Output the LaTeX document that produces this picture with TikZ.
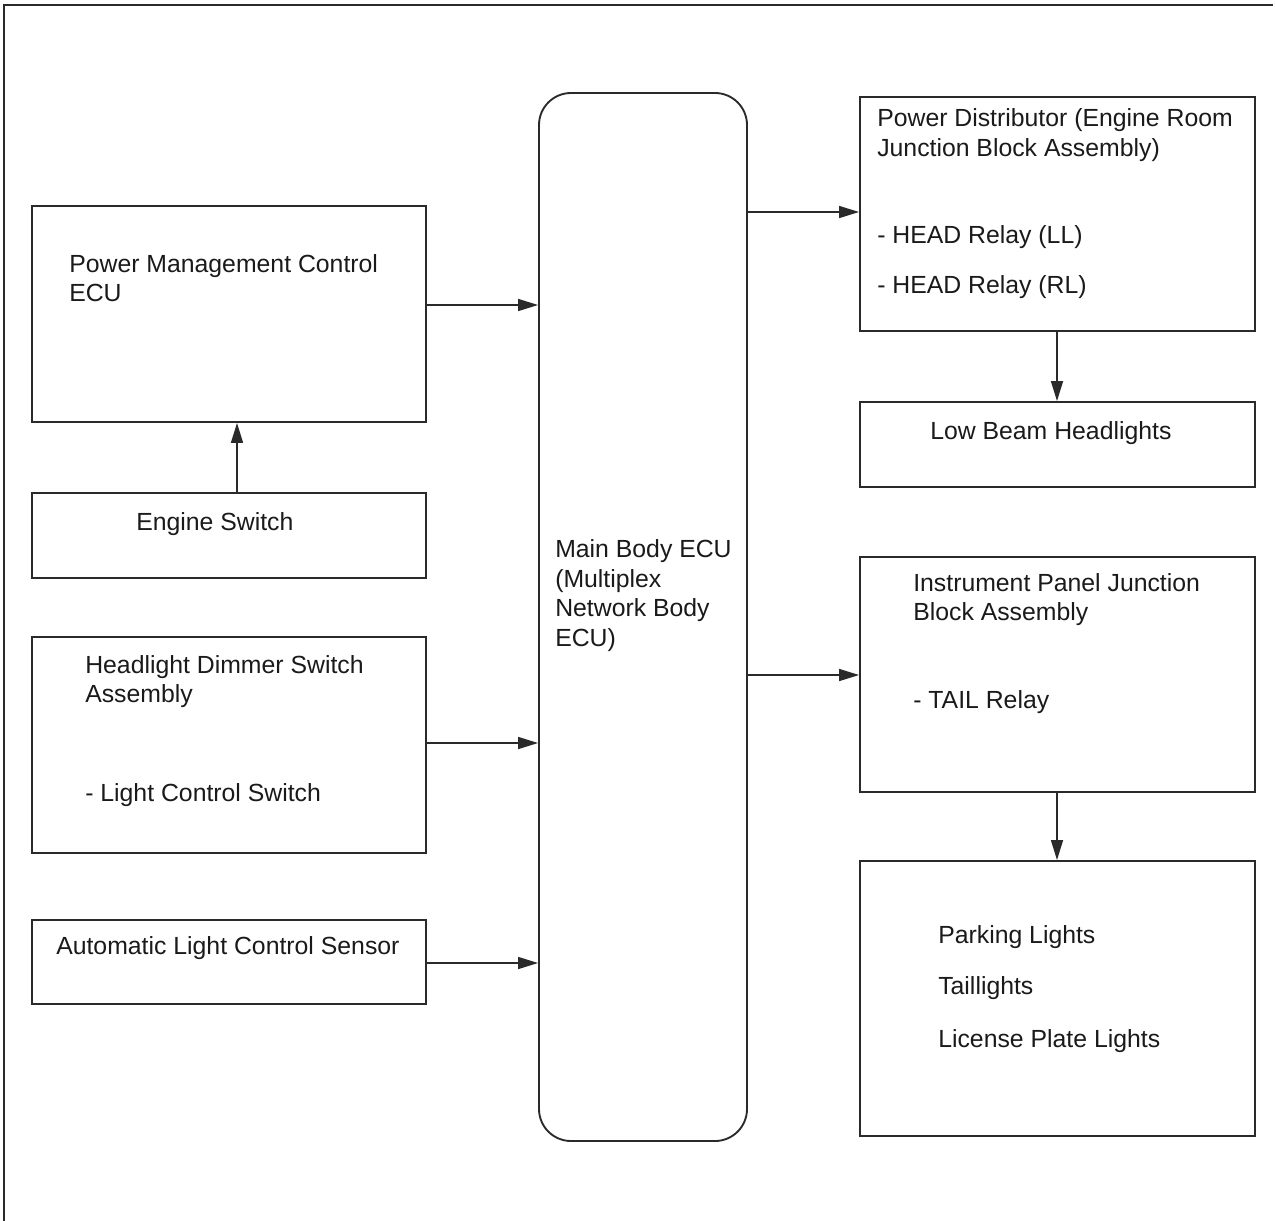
\documentclass[tikz,border=0pt]{standalone}
\usepackage{fontspec}
\setmainfont{Liberation Sans}
\usetikzlibrary{fit,arrows.meta}
\definecolor{ln}{HTML}{2A2A2A}
\definecolor{tx}{HTML}{1A1A1A}
\tikzset{
  box/.style={draw=ln, line width=1.4pt, inner sep=0pt, fill=none},
  rbox/.style={box, rounded corners=24pt},
  lbl/.style={anchor=base west, inner sep=0pt, text=tx, font=\fontsize{18.6pt}{22pt}\selectfont},
  arr/.style={draw=ln, line width=1.1pt, -{Triangle[length=15pt,width=9pt]}}
}
\begin{document}
\begin{tikzpicture}[x=0.75pt,y=-0.75pt]
\useasboundingbox (0,0) rectangle (1275,1221);
% frame (top and left only)
\draw[ln, line width=1.4pt] (4,1221) -- (4,5) -- (1273,5);
% boxes
\node[box, fit={(32,206) (426,422)}] (pmc) {};
\node[box, fit={(32,493) (426,578)}] (eng) {};
\node[box, fit={(32,637) (426,853)}] (hds) {};
\node[box, fit={(32,920) (426,1004)}] (als) {};
\node[rbox, fit={(539,93) (747,1141)}] (main) {};
\node[box, fit={(860,97) (1255,331)}] (pd) {};
\node[box, fit={(860,402) (1255,487)}] (lb) {};
\node[box, fit={(860,557) (1255,792)}] (ip) {};
\node[box, fit={(860,861) (1255,1136)}] (pl) {};
% texts
\node[lbl] (t1) at (69,272) {Power Management Control};
\node[lbl] (t2) at (69,301) {ECU};
\node[lbl] (t3) at (136,530) {Engine Switch};
\node[lbl] (t4) at (85,673) {Headlight Dimmer Switch};
\node[lbl] (t5) at (85,702) {Assembly};
\node[lbl] (t6) at (85,801) {- Light Control Switch};
\node[lbl] (t7) at (56,954) {Automatic Light Control Sensor};
\node[lbl] (t8) at (555,557) {Main Body ECU};
\node[lbl] (t9) at (555,587) {(Multiplex};
\node[lbl] (t10) at (555,616) {Network Body};
\node[lbl] (t11) at (555,646) {ECU)};
\node[lbl] (t12) at (877,126) {Power Distributor (Engine Room};
\node[lbl] (t13) at (877,156) {Junction Block Assembly)};
\node[lbl] (t14) at (877,243) {- HEAD Relay (LL)};
\node[lbl] (t15) at (877,293) {- HEAD Relay (RL)};
\node[lbl] (t16) at (930,439) {Low Beam Headlights};
\node[lbl] (t17) at (913,591) {Instrument Panel Junction};
\node[lbl] (t18) at (913,620) {Block Assembly};
\node[lbl] (t19) at (913,708) {- TAIL Relay};
\node[lbl] (t20) at (938,943) {Parking Lights};
\node[lbl] (t21) at (938,994) {Taillights};
\node[lbl] (t22) at (938,1047) {License Plate Lights};
% connector levels
\coordinate (y1) at (0,305);
\coordinate (y2) at (0,743);
\coordinate (y3) at (0,963);
\coordinate (y4) at (0,212);
\coordinate (y5) at (0,675);
\coordinate (x1) at (237,0);
\coordinate (x2) at (1057,0);
% connectors
\draw[arr] (pmc.east |- y1) -- (main.west |- y1);
\draw[arr] (hds.east |- y2) -- (main.west |- y2);
\draw[arr] (als.east |- y3) -- (main.west |- y3);
\draw[arr] (eng.north -| x1) -- (pmc.south -| x1);
\draw[arr] (main.east |- y4) -- (pd.west |- y4);
\draw[arr] (main.east |- y5) -- (ip.west |- y5);
\draw[arr] (pd.south -| x2) -- (lb.north -| x2);
\draw[arr] (ip.south -| x2) -- (pl.north -| x2);
\end{tikzpicture}
\end{document}
